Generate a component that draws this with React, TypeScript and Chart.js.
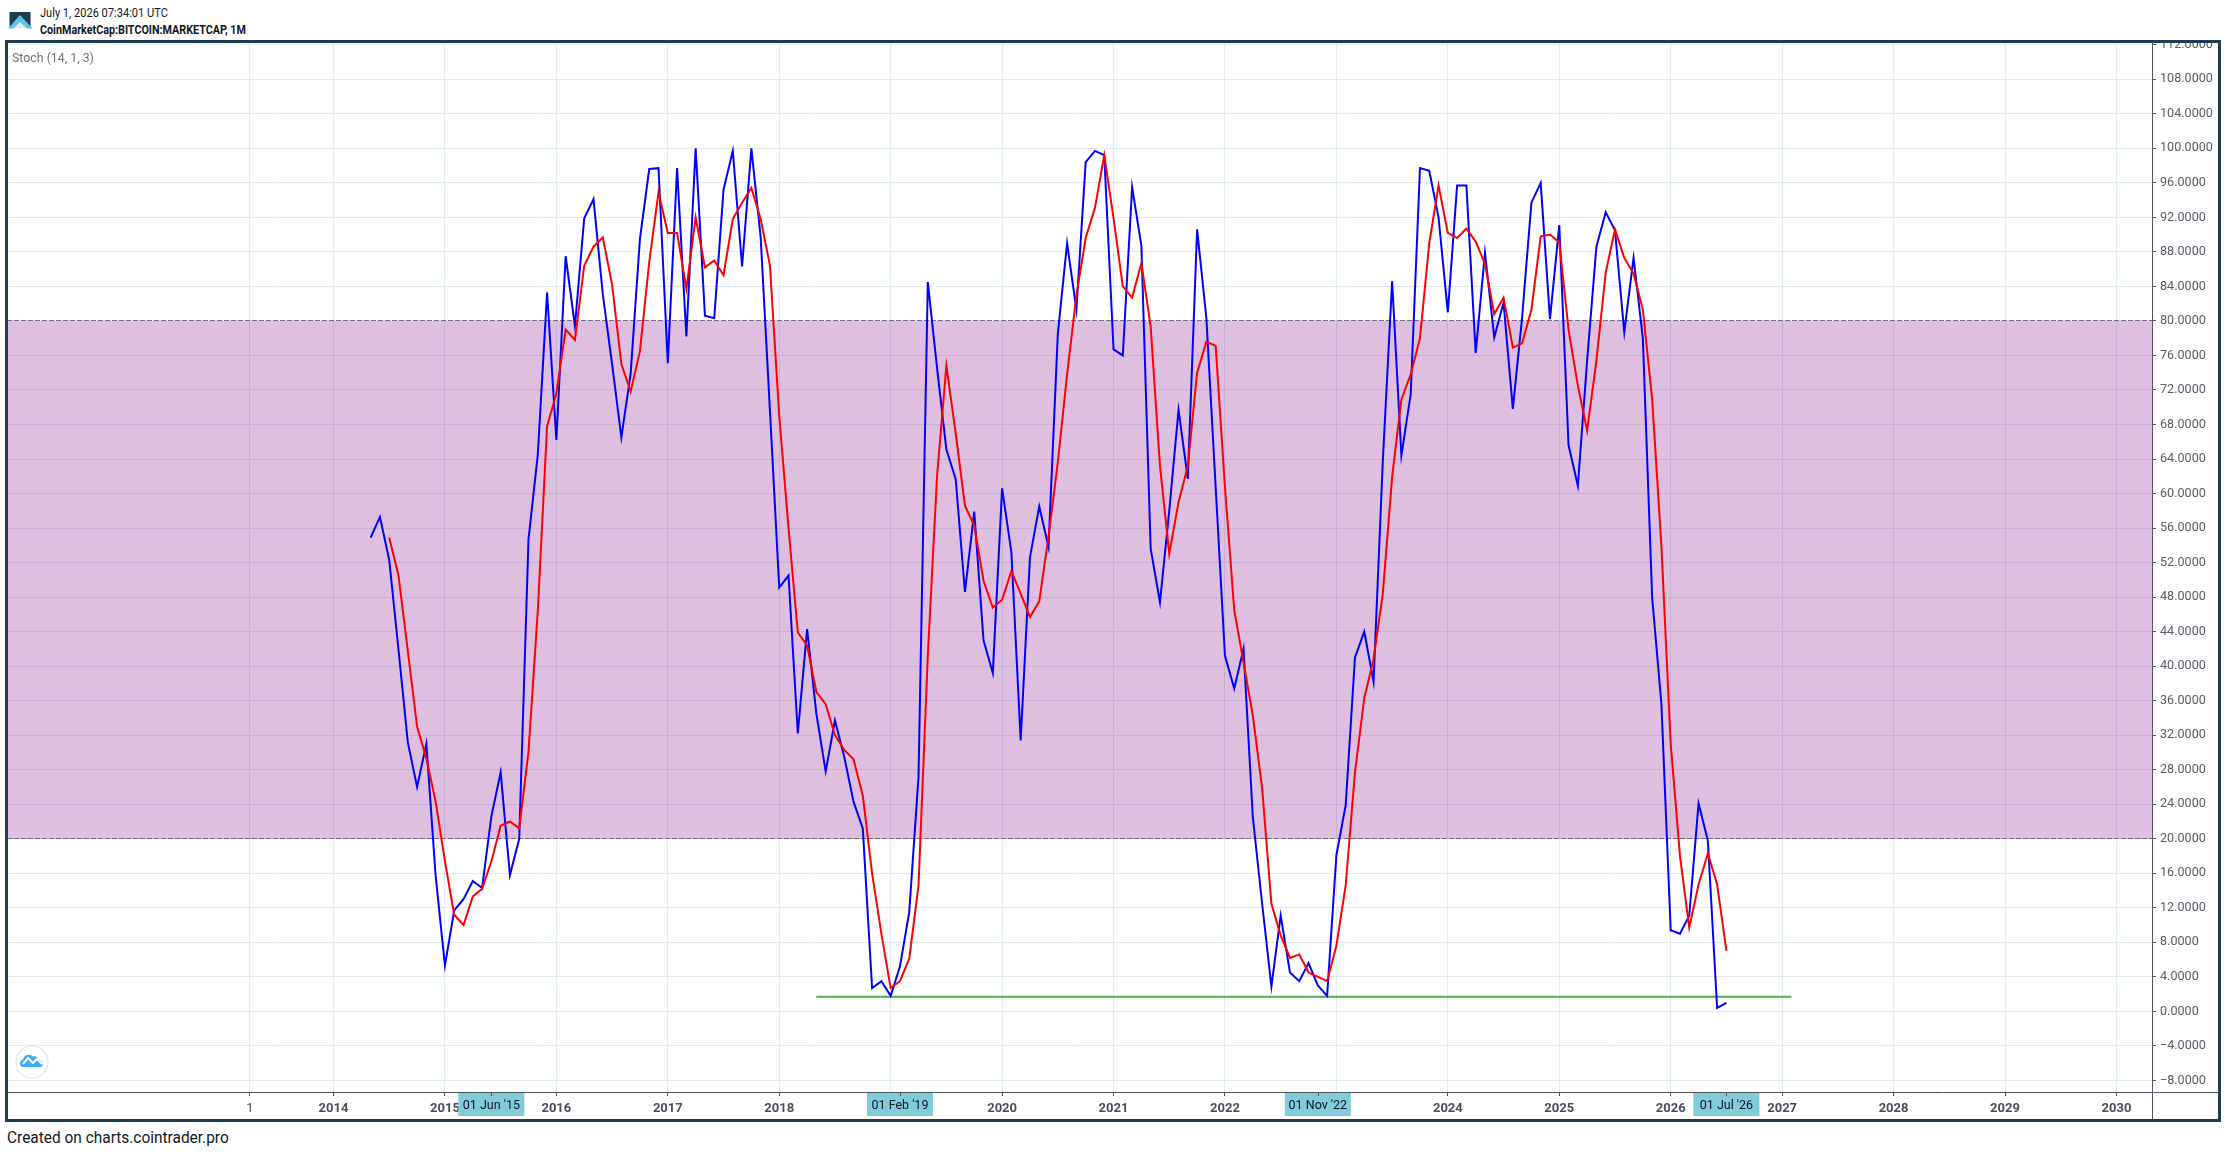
import React, { useEffect, useRef } from "react";
import { Chart, registerables } from "chart.js";

Chart.register(...registerables);

// Month index 0 = January 2014
const stochKStart = 4;
const stochK = [
  54.9, 57.3, 52.3, 41.9, 31.2, 26, 31, 15.7, 5.3, 11.7,
  13, 15.1, 14.3, 22.6, 27.7, 15.8, 20, 54.7, 64.5, 83.3,
  66.2, 87.5, 79.4, 91.9, 94.1, 83.1, 75, 66.5, 73.9, 89.5,
  97.6, 97.7, 75.1, 97.7, 78.2, 100, 80.6, 80.3, 95.2, 99.7,
  86.3, 100, 89.7, 69.6, 49.1, 50.5, 32.2, 44.3, 34.5, 27.8,
  33.7, 29.5, 24.3, 21.2, 2.7, 3.5, 1.8, 5.2, 11.5, 27.2,
  84.5, 74.5, 65.1, 61.7, 48.6, 57.9, 43, 39.2, 60.6, 53.2,
  31.4, 52.6, 58.5, 53.8, 78.5, 89, 81.3, 98.4, 99.7, 99.2,
  76.7, 76, 95.5, 88.7, 53.6, 47.4, 58, 69.7, 61.7, 90.6,
  80.3, 60.7, 41.2, 37.4, 42, 22.5, 12.5, 2.9, 11.1, 4.5,
  3.5, 5.6, 3, 1.8, 18.1, 23.9, 41, 44, 38.2, 63.8,
  84.6, 64.4, 71.5, 97.7, 97.4, 92, 81, 95.7, 95.7, 76.3,
  87.9, 78.1, 82.1, 69.8, 80.4, 93.7, 96, 80.2, 91.1, 65.6,
  60.9, 75.4, 88.6, 92.6, 90.5, 78.7, 87.3, 78, 48, 35.6,
  9.4, 9, 11.1, 24.1, 19.8, 0.4, 1,
];

const stochDStart = 6;
const stochD = [
  54.9, 50.5, 41.8, 33, 29.3, 24.3, 17.4, 11.2, 10, 13.3,
  14.2, 17.4, 21.5, 22, 21.2, 30.1, 46.4, 67.8, 71.6, 79,
  77.8, 86.4, 88.6, 89.7, 84.2, 75, 71.8, 76.5, 86.8, 94.9,
  90.2, 90.2, 83.7, 92, 86.2, 87, 85.3, 91.8, 93.7, 95.4,
  91.8, 86.4, 69, 56, 43.9, 42.4, 37, 35.6, 32, 30.3,
  29.2, 25, 16, 9, 2.7, 3.5, 6.1, 14.6, 41.2, 62.1,
  74.8, 67, 58.6, 56.3, 49.9, 46.8, 47.7, 51, 48.4, 45.7,
  47.5, 55, 63.6, 73.8, 82.9, 89.6, 93.1, 99.2, 91.9, 84,
  82.7, 86.7, 79.3, 63.2, 53, 59, 63.2, 74, 77.6, 77.1,
  60.7, 46.5, 40.4, 34.3, 25.9, 12.5, 8.8, 6.2, 6.6, 4.5,
  4, 3.5, 7.6, 14.6, 27.7, 36.3, 40.8, 48.4, 61.9, 70.9,
  73.8, 78, 89, 95.7, 90.2, 89.6, 90.7, 89.2, 86.6, 80.8,
  82.7, 76.9, 77.4, 81.3, 89.8, 90, 89.1, 79, 72.5, 67.3,
  75.4, 85.6, 90.6, 87.3, 85.5, 81.3, 71, 53.9, 31, 18,
  9.7, 14.7, 18.3, 14.7, 7,
];

const trendX = [52, 157];
const trendY = [1.7, 1.7];

const bandUpper = 80;
const bandLower = 20;

const xTickIndex = [-9, 0, 12, 24, 36, 48, 60, 72, 84, 96, 108, 120, 132, 144, 156, 168, 180, 192];
const xTickLabels = ["1", "2014", "2015", "2016", "2017", "2018", "2019", "2020", "2021", "2022", "2023", "2024", "2025", "2026", "2027", "2028", "2029", "2030"];
const yTicks = [-8, -4, 0, 4, 8, 12, 16, 20, 24, 28, 32, 36, 40, 44, 48, 52, 56, 60, 64, 68, 72, 76, 80, 84, 88, 92, 96, 100, 104, 108, 112];

const markerIndex = [17, 61, 106, 150];
const markerLabels = ["01 Jun '15", "01 Feb '19", "01 Nov '22", "01 Jul '26"];

const FONT = "Roboto, sans-serif";
const AXIS = "#50535e";

const decorations = {
  id: "decorations",
  beforeDatasetsDraw(chart: any) {
    const { ctx, chartArea: a, scales } = chart;
    const top = scales.y.getPixelForValue(bandUpper);
    const bottom = scales.y.getPixelForValue(bandLower);
    ctx.save();
    ctx.globalCompositeOperation = "multiply";
    ctx.fillStyle = "rgb(223,191,223)";
    ctx.fillRect(a.left, top, a.right - a.left, bottom - top);
    ctx.globalCompositeOperation = "source-over";
    ctx.strokeStyle = "#7d6b80";
    ctx.lineWidth = 1;
    ctx.setLineDash([5, 2]);
    for (const y of [top, bottom]) {
      ctx.beginPath();
      ctx.moveTo(a.left, Math.round(y) - 0.5);
      ctx.lineTo(a.right, Math.round(y) - 0.5);
      ctx.stroke();
    }
    ctx.restore();
  },
  afterDraw(chart: any) {
    const { ctx, chartArea: a, scales, width, height } = chart;
    ctx.save();
    ctx.strokeStyle = AXIS;
    ctx.lineWidth = 1;
    ctx.beginPath();
    ctx.moveTo(0, a.bottom + 0.5);
    ctx.lineTo(width, a.bottom + 0.5);
    ctx.moveTo(a.right + 0.5, 0);
    ctx.lineTo(a.right + 0.5, height);
    ctx.stroke();
    markerIndex.forEach((m, i) => {
      const x = scales.x.getPixelForValue(m);
      ctx.fillStyle = "#80ccdb";
      ctx.fillRect(x - 33, a.bottom + 1, 66, 23);
      ctx.strokeStyle = AXIS;
      ctx.beginPath();
      ctx.moveTo(Math.round(x) + 0.5, a.bottom);
      ctx.lineTo(Math.round(x) + 0.5, a.bottom + 4);
      ctx.stroke();
      ctx.fillStyle = "#131722";
      ctx.font = `12.5px ${FONT}`;
      ctx.textAlign = "center";
      ctx.textBaseline = "middle";
      ctx.fillText(markerLabels[i], x, a.bottom + 14);
    });
    ctx.restore();
  },
};

export default function App() {
  const ref = useRef<HTMLCanvasElement | null>(null);

  useEffect(() => {
    if (!ref.current) return;
    const chart = new Chart(ref.current, {
      type: "line",
      plugins: [decorations],
      data: {
        datasets: [
          {
            label: "%D",
            data: stochD.map((y, i) => ({ x: stochDStart + i, y })),
            borderColor: "#ff0000",
            borderWidth: 2,
            pointRadius: 0,
            tension: 0,
          },
          {
            label: "%K",
            data: stochK.map((y, i) => ({ x: stochKStart + i, y })),
            borderColor: "#0000ff",
            borderWidth: 2,
            pointRadius: 0,
            tension: 0,
          },
          {
            label: "Trend",
            data: trendX.map((x, i) => ({ x, y: trendY[i] })),
            borderColor: "#4caf50",
            borderWidth: 2,
            pointRadius: 0,
            tension: 0,
          },
        ],
      },
      options: {
        animation: false,
        responsive: false,
        maintainAspectRatio: false,
        layout: { padding: 0 },
        plugins: { legend: { display: false }, tooltip: { enabled: false } },
        scales: {
          x: {
            type: "linear",
            min: -35.16,
            max: 195.83,
            border: { display: false },
            grid: { color: "#e1ecf2", lineWidth: 1, tickLength: 4, tickColor: AXIS },
            afterBuildTicks(scale: any) {
              scale.ticks = xTickIndex.map((value) => ({ value }));
            },
            afterFit(scale: any) {
              scale.height = 28;
              scale.paddingLeft = 0;
              scale.paddingRight = 0;
            },
            ticks: {
              autoSkip: false,
              maxRotation: 0,
              padding: 5,
              color: "#4a4e5a",
              font: (c: any) => ({
                family: FONT,
                size: 13,
                weight: c.index === 0 ? "normal" : "bold",
              }),
              callback: (v: any) => xTickLabels[xTickIndex.indexOf(v)] ?? "",
            },
          },
          y: {
            position: "right",
            min: -9.34,
            max: 112.2,
            border: { display: false },
            grid: { color: "#e1ecf2", lineWidth: 1, tickLength: 4, tickColor: AXIS },
            afterBuildTicks(scale: any) {
              scale.ticks = yTicks.map((value) => ({ value }));
            },
            afterFit(scale: any) {
              scale.width = 67;
              scale.paddingTop = 0;
              scale.paddingBottom = 0;
            },
            ticks: {
              autoSkip: false,
              padding: 4,
              color: "#5a5d68",
              font: { family: FONT, size: 12.6 },
              callback: (v: any) => (v < 0 ? "\u2212" + Math.abs(v).toFixed(4) : Number(v).toFixed(4)),
            },
          },
        },
      },
    } as any);
    return () => chart.destroy();
  }, []);

  const text: React.CSSProperties = { position: "absolute", fontFamily: FONT, color: "#131722", whiteSpace: "nowrap", transformOrigin: "0 50%" };

  return (
    <div style={{ position: "absolute", left: 0, top: 0, width: 2226, height: 1152, background: "#fff", overflow: "hidden" }}>
      <svg style={{ position: "absolute", left: 8, top: 11 }} width="25" height="18" viewBox="0 0 25 18">
        <rect x="1.5" y="1" width="21" height="16" fill="#1d3c50" />
        <polygon points="0,17.5 12,4 24.5,17.5 19,17.5 12,10.5 5,17.5" fill="#5cc3e8" />
        <polygon points="5,17.5 12,10.5 19,17.5" fill="#d9f1fa" />
      </svg>
      <div style={{ ...text, left: 40, top: 5, fontSize: 12.5, lineHeight: "16px", transform: "scaleX(0.885)" }}>July 1, 2026 07:34:01 UTC</div>
      <div style={{ ...text, left: 40, top: 22, fontSize: 12.5, lineHeight: "16px", fontWeight: 700, transform: "scaleX(0.86)" }}>CoinMarketCap:BITCOIN:MARKETCAP, 1M</div>
      <div style={{ ...text, left: 7, top: 1128, fontSize: 16, lineHeight: "20px", transform: "scaleX(0.965)" }}>Created on charts.cointrader.pro</div>

      <canvas ref={ref} width={2212} height={1077} style={{ position: "absolute", left: 7, top: 43, width: 2212, height: 1077, display: "block" }} />

      <div style={{ position: "absolute", left: 5, top: 40, width: 2216, height: 1082, boxSizing: "border-box", border: "3px solid #1f3d4f", pointerEvents: "none" }} />
      <div style={{ ...text, left: 12, top: 49, fontSize: 13, lineHeight: "17px", color: "#6f7278", transform: "scaleX(0.95)" }}>Stoch (14, 1, 3)</div>
      <svg style={{ position: "absolute", left: 15, top: 1045 }} width="34" height="34" viewBox="0 0 34 34">
        <circle cx="17" cy="17" r="16" fill="#fff" stroke="#e3e3e3" strokeWidth="1.2" />
        <path d="M7 22 a4 4 0 0 1 1-7.5 a6 6 0 0 1 10-3 a5 5 0 0 1 6 4 a3.5 3.5 0 0 1 2 6.5 z" fill="#3fa9f5" />
        <polyline points="8,19 13,13 18,18 22,14 27,19" fill="none" stroke="#fff" strokeWidth="2" />
      </svg>
    </div>
  );
}
